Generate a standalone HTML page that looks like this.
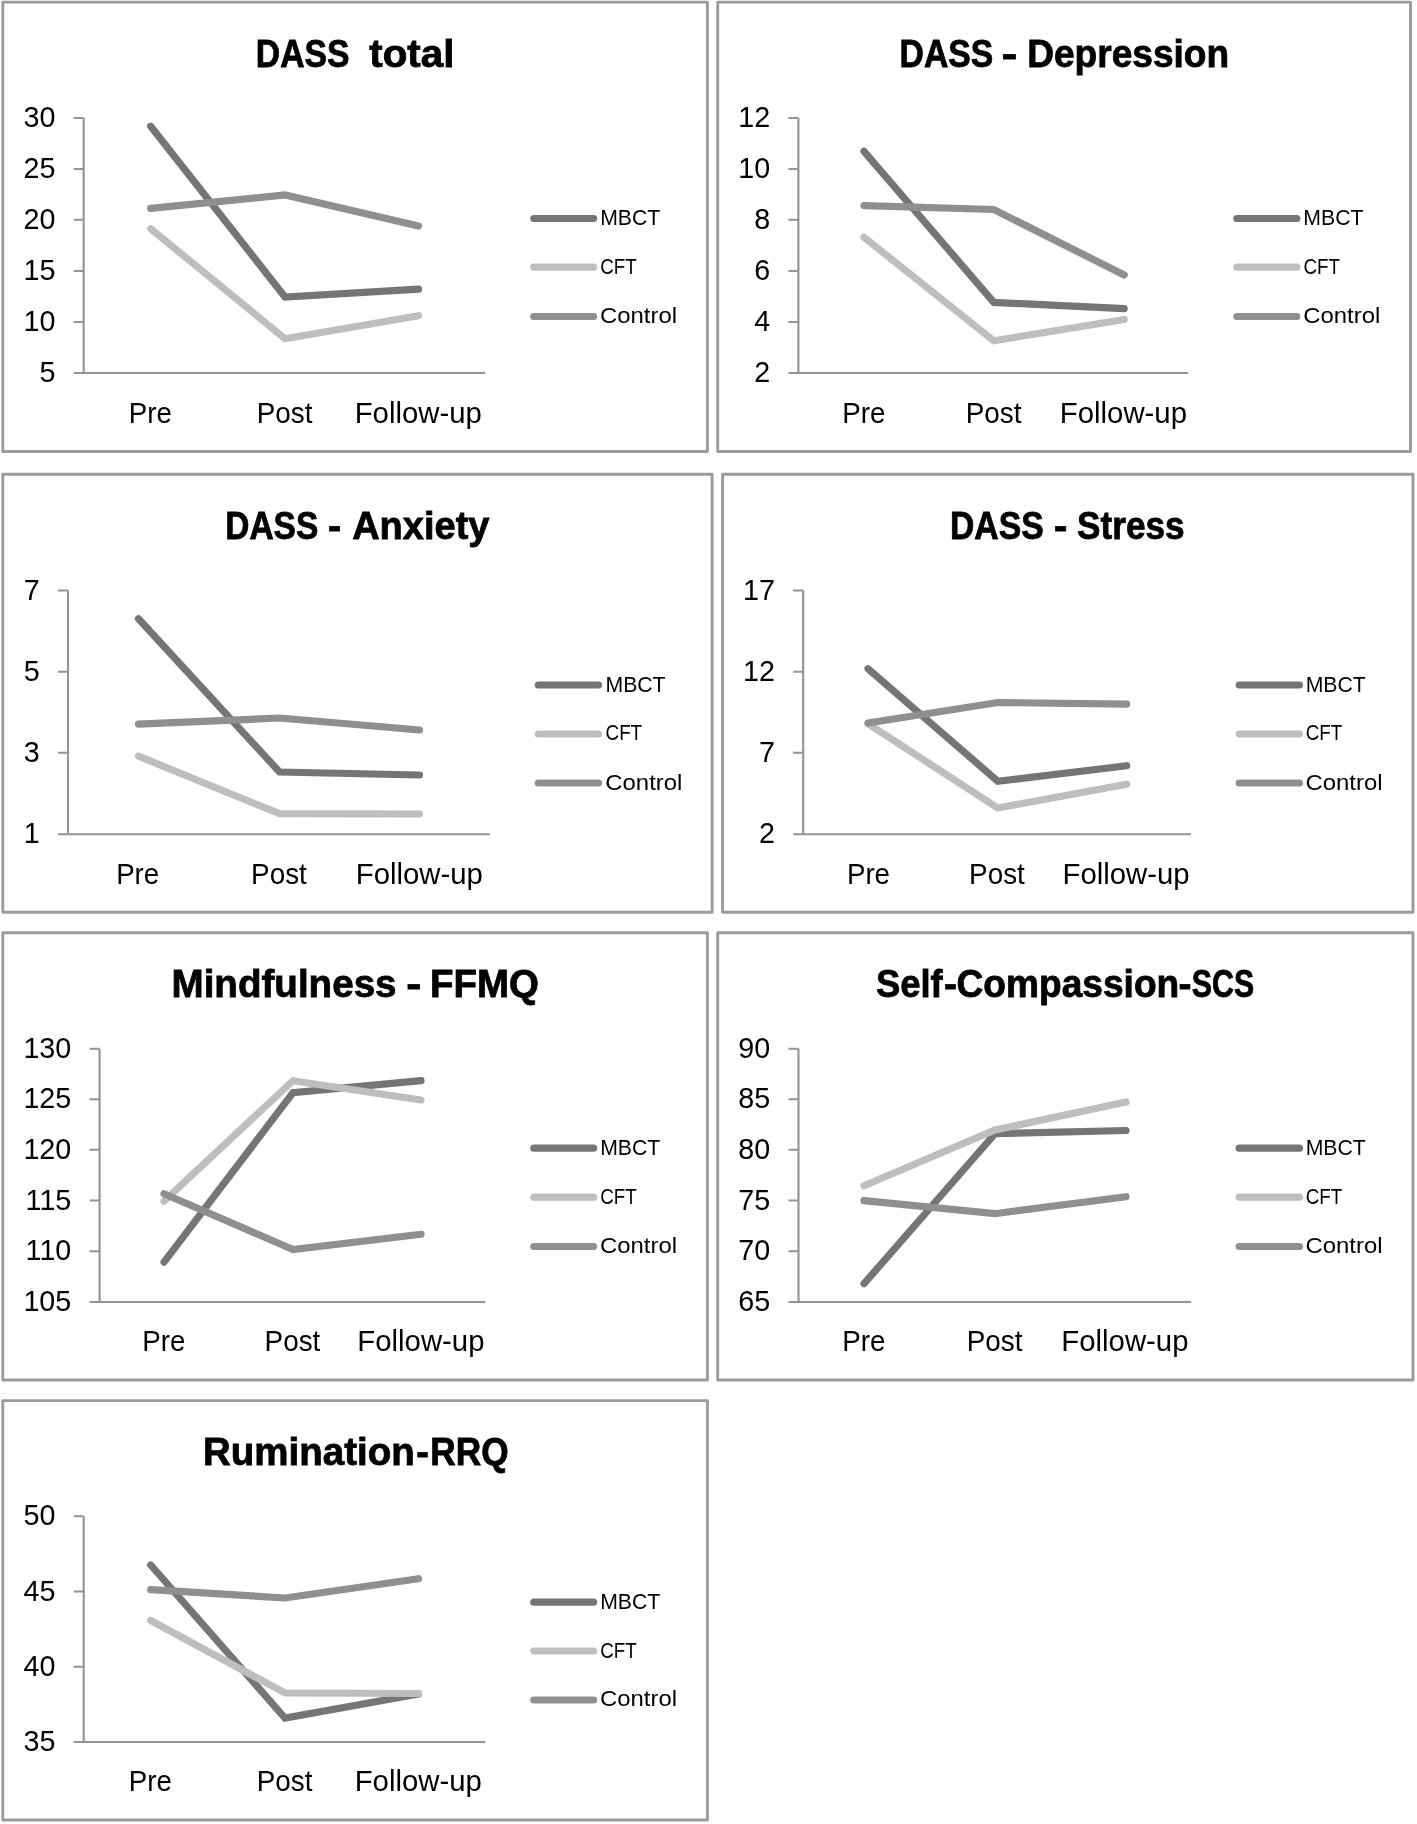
<!DOCTYPE html>
<html lang="en"><head><meta charset="utf-8"><title>Outcome measures across time</title>
<style>
html,body{margin:0;padding:0;background:#fff}
body{width:1417px;height:1824px;overflow:hidden}
svg{display:block;will-change:transform;filter:grayscale(1)}
text{font-family:"Liberation Sans",sans-serif;fill:#000}
</style></head><body>
<svg width="1417" height="1824" viewBox="0 0 1417 1824">
<rect width="1417" height="1824" fill="#fff"/>
<rect x="2.8" y="2.1" width="704.6" height="449.4" fill="#fff" stroke="#9b9b9b" stroke-width="2.9" stroke-linejoin="round"/>
<text x="255.86" y="67.3" font-size="39.2" font-weight="700" stroke="#000" stroke-width="0.8" textLength="93.65" lengthAdjust="spacingAndGlyphs">DASS</text>
<text x="369.32" y="67.3" font-size="39.2" font-weight="700" stroke="#000" stroke-width="0.8" textLength="85.12" lengthAdjust="spacingAndGlyphs">total</text>
<path d="M83.7 118V373M73.7 373H485.2M73.7 118H83.7M73.7 169H83.7M73.7 219.7H83.7M73.7 271H83.7M73.7 322H83.7" fill="none" stroke="#939393" stroke-width="2.1"/>
<text x="55.4" y="127.0" font-size="28.7" text-anchor="end" textLength="31.92" lengthAdjust="spacingAndGlyphs">30</text>
<text x="55.4" y="178.0" font-size="28.7" text-anchor="end" textLength="31.92" lengthAdjust="spacingAndGlyphs">25</text>
<text x="55.4" y="228.7" font-size="28.7" text-anchor="end" textLength="31.92" lengthAdjust="spacingAndGlyphs">20</text>
<text x="55.4" y="280.0" font-size="28.7" text-anchor="end" textLength="31.92" lengthAdjust="spacingAndGlyphs">15</text>
<text x="55.4" y="331.0" font-size="28.7" text-anchor="end" textLength="31.92" lengthAdjust="spacingAndGlyphs">10</text>
<text x="55.4" y="382.0" font-size="28.7" text-anchor="end" textLength="15.96" lengthAdjust="spacingAndGlyphs">5</text>
<text x="128.83" y="422.5" font-size="28.7" textLength="43.09" lengthAdjust="spacingAndGlyphs">Pre</text>
<text x="256.72" y="422.5" font-size="28.7" textLength="55.68" lengthAdjust="spacingAndGlyphs">Post</text>
<text x="354.70" y="422.5" font-size="28.7" textLength="127.12" lengthAdjust="spacingAndGlyphs">Follow-up</text>
<polyline points="150.7,126.2 285,297 418.5,289.2" fill="none" stroke="#757575" stroke-width="7.2" stroke-linecap="round" stroke-linejoin="miter" stroke-miterlimit="10"/>
<polyline points="150.7,228.7 285,338.7 418.5,315.7" fill="none" stroke="#bebebe" stroke-width="7.2" stroke-linecap="round" stroke-linejoin="miter" stroke-miterlimit="10"/>
<polyline points="150.7,208.3 285,195 418.5,226" fill="none" stroke="#8f8f8f" stroke-width="7.2" stroke-linecap="round" stroke-linejoin="miter" stroke-miterlimit="10"/>
<line x1="533.8" y1="218.5" x2="593.6" y2="218.5" stroke="#757575" stroke-width="7.2" stroke-linecap="round"/>
<text x="600.16" y="225.4" font-size="22.5" textLength="60.13" lengthAdjust="spacingAndGlyphs">MBCT</text>
<line x1="533.8" y1="267.2" x2="593.6" y2="267.2" stroke="#bebebe" stroke-width="7.2" stroke-linecap="round"/>
<text x="600.25" y="273.9" font-size="22.5" textLength="36.58" lengthAdjust="spacingAndGlyphs">CFT</text>
<line x1="533.8" y1="316.5" x2="593.6" y2="316.5" stroke="#8f8f8f" stroke-width="7.2" stroke-linecap="round"/>
<text x="599.99" y="323.4" font-size="22.5" textLength="77.10" lengthAdjust="spacingAndGlyphs">Control</text>
<rect x="717.7" y="2.1" width="692.8" height="449.4" fill="#fff" stroke="#9b9b9b" stroke-width="2.9" stroke-linejoin="round"/>
<text x="899.56" y="67.3" font-size="39.2" font-weight="700" stroke="#000" stroke-width="0.8" textLength="93.65" lengthAdjust="spacingAndGlyphs">DASS</text>
<text x="1001.79" y="67.3" font-size="39.2" font-weight="700" stroke="#000" stroke-width="0.8" textLength="15.47" lengthAdjust="spacingAndGlyphs">-</text>
<text x="1027.23" y="67.3" font-size="39.2" font-weight="700" stroke="#000" stroke-width="0.8" textLength="201.96" lengthAdjust="spacingAndGlyphs">Depression</text>
<path d="M798.4 118V373M788.4 373H1188M788.4 118H798.4M788.4 169H798.4M788.4 219.7H798.4M788.4 271H798.4M788.4 322H798.4" fill="none" stroke="#939393" stroke-width="2.1"/>
<text x="770.1" y="127.0" font-size="28.7" text-anchor="end" textLength="31.92" lengthAdjust="spacingAndGlyphs">12</text>
<text x="770.1" y="178.0" font-size="28.7" text-anchor="end" textLength="31.92" lengthAdjust="spacingAndGlyphs">10</text>
<text x="770.1" y="228.7" font-size="28.7" text-anchor="end" textLength="15.96" lengthAdjust="spacingAndGlyphs">8</text>
<text x="770.1" y="280.0" font-size="28.7" text-anchor="end" textLength="15.96" lengthAdjust="spacingAndGlyphs">6</text>
<text x="770.1" y="331.0" font-size="28.7" text-anchor="end" textLength="15.96" lengthAdjust="spacingAndGlyphs">4</text>
<text x="770.1" y="382.0" font-size="28.7" text-anchor="end" textLength="15.96" lengthAdjust="spacingAndGlyphs">2</text>
<text x="842.23" y="422.5" font-size="28.7" textLength="43.09" lengthAdjust="spacingAndGlyphs">Pre</text>
<text x="965.82" y="422.5" font-size="28.7" textLength="55.68" lengthAdjust="spacingAndGlyphs">Post</text>
<text x="1059.85" y="422.5" font-size="28.7" textLength="127.12" lengthAdjust="spacingAndGlyphs">Follow-up</text>
<polyline points="864,151.3 993.8,302.4 1124.2,308.7" fill="none" stroke="#757575" stroke-width="7.2" stroke-linecap="round" stroke-linejoin="miter" stroke-miterlimit="10"/>
<polyline points="864,237.3 993.8,340.8 1124.2,319.5" fill="none" stroke="#bebebe" stroke-width="7.2" stroke-linecap="round" stroke-linejoin="miter" stroke-miterlimit="10"/>
<polyline points="864,205.7 993.8,209.5 1124.2,275" fill="none" stroke="#8f8f8f" stroke-width="7.2" stroke-linecap="round" stroke-linejoin="miter" stroke-miterlimit="10"/>
<line x1="1236.9" y1="218.5" x2="1296.8" y2="218.5" stroke="#757575" stroke-width="7.2" stroke-linecap="round"/>
<text x="1303.36" y="225.4" font-size="22.5" textLength="60.13" lengthAdjust="spacingAndGlyphs">MBCT</text>
<line x1="1236.9" y1="267.2" x2="1296.8" y2="267.2" stroke="#bebebe" stroke-width="7.2" stroke-linecap="round"/>
<text x="1303.45" y="273.9" font-size="22.5" textLength="36.58" lengthAdjust="spacingAndGlyphs">CFT</text>
<line x1="1236.9" y1="316.5" x2="1296.8" y2="316.5" stroke="#8f8f8f" stroke-width="7.2" stroke-linecap="round"/>
<text x="1303.19" y="323.4" font-size="22.5" textLength="77.10" lengthAdjust="spacingAndGlyphs">Control</text>
<rect x="2.8" y="474.2" width="709.3" height="438.1" fill="#fff" stroke="#9b9b9b" stroke-width="2.9" stroke-linejoin="round"/>
<text x="225.27" y="538.6" font-size="39.2" font-weight="700" stroke="#000" stroke-width="0.8" textLength="93.03" lengthAdjust="spacingAndGlyphs">DASS</text>
<text x="328.06" y="538.6" font-size="39.2" font-weight="700" stroke="#000" stroke-width="0.8" textLength="13.11" lengthAdjust="spacingAndGlyphs">-</text>
<text x="352.17" y="538.6" font-size="39.2" font-weight="700" stroke="#000" stroke-width="0.8" textLength="137.33" lengthAdjust="spacingAndGlyphs">Anxiety</text>
<path d="M68 590.5V834.2M58 834.2H489.7M58 590.5H68M58 671.7H68M58 752.7H68" fill="none" stroke="#939393" stroke-width="2.1"/>
<text x="39.7" y="599.5" font-size="28.7" text-anchor="end" textLength="15.96" lengthAdjust="spacingAndGlyphs">7</text>
<text x="39.7" y="680.7" font-size="28.7" text-anchor="end" textLength="15.96" lengthAdjust="spacingAndGlyphs">5</text>
<text x="39.7" y="761.7" font-size="28.7" text-anchor="end" textLength="15.96" lengthAdjust="spacingAndGlyphs">3</text>
<text x="39.7" y="843.2" font-size="28.7" text-anchor="end" textLength="15.96" lengthAdjust="spacingAndGlyphs">1</text>
<text x="116.13" y="883.7" font-size="28.7" textLength="43.09" lengthAdjust="spacingAndGlyphs">Pre</text>
<text x="251.12" y="883.7" font-size="28.7" textLength="55.68" lengthAdjust="spacingAndGlyphs">Post</text>
<text x="355.75" y="883.7" font-size="28.7" textLength="127.12" lengthAdjust="spacingAndGlyphs">Follow-up</text>
<polyline points="138.5,618.7 279.5,772 419.5,775" fill="none" stroke="#757575" stroke-width="7.2" stroke-linecap="round" stroke-linejoin="miter" stroke-miterlimit="10"/>
<polyline points="138.5,756.2 279.5,813.7 419.5,814" fill="none" stroke="#bebebe" stroke-width="7.2" stroke-linecap="round" stroke-linejoin="miter" stroke-miterlimit="10"/>
<polyline points="138.5,724.2 279.5,718 419.5,730" fill="none" stroke="#8f8f8f" stroke-width="7.2" stroke-linecap="round" stroke-linejoin="miter" stroke-miterlimit="10"/>
<line x1="538.3" y1="685" x2="598.6" y2="685" stroke="#757575" stroke-width="7.2" stroke-linecap="round"/>
<text x="605.46" y="692.2" font-size="22.5" textLength="60.13" lengthAdjust="spacingAndGlyphs">MBCT</text>
<line x1="538.3" y1="734" x2="598.6" y2="734" stroke="#bebebe" stroke-width="7.2" stroke-linecap="round"/>
<text x="605.55" y="740.2" font-size="22.5" textLength="36.58" lengthAdjust="spacingAndGlyphs">CFT</text>
<line x1="538.3" y1="783" x2="598.6" y2="783" stroke="#8f8f8f" stroke-width="7.2" stroke-linecap="round"/>
<text x="605.29" y="789.7" font-size="22.5" textLength="77.10" lengthAdjust="spacingAndGlyphs">Control</text>
<rect x="722.6" y="474.2" width="690.4" height="438.1" fill="#fff" stroke="#9b9b9b" stroke-width="2.9" stroke-linejoin="round"/>
<text x="949.96" y="538.7" font-size="39.2" font-weight="700" stroke="#000" stroke-width="0.8" textLength="93.75" lengthAdjust="spacingAndGlyphs">DASS</text>
<text x="1053.93" y="538.7" font-size="39.2" font-weight="700" stroke="#000" stroke-width="0.8" textLength="13.37" lengthAdjust="spacingAndGlyphs">-</text>
<text x="1077.10" y="538.7" font-size="39.2" font-weight="700" stroke="#000" stroke-width="0.8" textLength="107.53" lengthAdjust="spacingAndGlyphs">Stress</text>
<path d="M803.2 590.5V834.2M793.2 834.2H1191M793.2 590.5H803.2M793.2 671.7H803.2M793.2 752.7H803.2" fill="none" stroke="#939393" stroke-width="2.1"/>
<text x="774.9" y="599.5" font-size="28.7" text-anchor="end" textLength="31.92" lengthAdjust="spacingAndGlyphs">17</text>
<text x="774.9" y="680.7" font-size="28.7" text-anchor="end" textLength="31.92" lengthAdjust="spacingAndGlyphs">12</text>
<text x="774.9" y="761.7" font-size="28.7" text-anchor="end" textLength="15.96" lengthAdjust="spacingAndGlyphs">7</text>
<text x="774.9" y="843.2" font-size="28.7" text-anchor="end" textLength="15.96" lengthAdjust="spacingAndGlyphs">2</text>
<text x="846.93" y="883.7" font-size="28.7" textLength="43.09" lengthAdjust="spacingAndGlyphs">Pre</text>
<text x="969.12" y="883.7" font-size="28.7" textLength="55.68" lengthAdjust="spacingAndGlyphs">Post</text>
<text x="1062.55" y="883.7" font-size="28.7" textLength="127.12" lengthAdjust="spacingAndGlyphs">Follow-up</text>
<polyline points="868,668.7 997.7,781.2 1126.7,765.7" fill="none" stroke="#757575" stroke-width="7.2" stroke-linecap="round" stroke-linejoin="miter" stroke-miterlimit="10"/>
<polyline points="868,723.7 997.7,808 1126.7,784.2" fill="none" stroke="#bebebe" stroke-width="7.2" stroke-linecap="round" stroke-linejoin="miter" stroke-miterlimit="10"/>
<polyline points="868,723 997.7,702.5 1126.7,704.2" fill="none" stroke="#8f8f8f" stroke-width="7.2" stroke-linecap="round" stroke-linejoin="miter" stroke-miterlimit="10"/>
<line x1="1239.2" y1="685" x2="1299.5" y2="685" stroke="#757575" stroke-width="7.2" stroke-linecap="round"/>
<text x="1305.66" y="692.2" font-size="22.5" textLength="60.13" lengthAdjust="spacingAndGlyphs">MBCT</text>
<line x1="1239.2" y1="734" x2="1299.5" y2="734" stroke="#bebebe" stroke-width="7.2" stroke-linecap="round"/>
<text x="1305.75" y="740.2" font-size="22.5" textLength="36.58" lengthAdjust="spacingAndGlyphs">CFT</text>
<line x1="1239.2" y1="783" x2="1299.5" y2="783" stroke="#8f8f8f" stroke-width="7.2" stroke-linecap="round"/>
<text x="1305.49" y="789.7" font-size="22.5" textLength="77.10" lengthAdjust="spacingAndGlyphs">Control</text>
<rect x="2.8" y="932.8" width="704.6" height="447.2" fill="#fff" stroke="#9b9b9b" stroke-width="2.9" stroke-linejoin="round"/>
<text x="171.53" y="996.9" font-size="39.2" font-weight="700" stroke="#000" stroke-width="0.8" textLength="225.03" lengthAdjust="spacingAndGlyphs">Mindfulness</text>
<text x="406.15" y="996.9" font-size="39.2" font-weight="700" stroke="#000" stroke-width="0.8" textLength="14.95" lengthAdjust="spacingAndGlyphs">-</text>
<text x="429.94" y="996.9" font-size="39.2" font-weight="700" stroke="#000" stroke-width="0.8" textLength="108.98" lengthAdjust="spacingAndGlyphs">FFMQ</text>
<path d="M99.6 1048.7V1302M89.6 1302H485.2M89.6 1048.7H99.6M89.6 1099.2H99.6M89.6 1149.7H99.6M89.6 1200.5H99.6M89.6 1251.2H99.6" fill="none" stroke="#939393" stroke-width="2.1"/>
<text x="71.3" y="1057.7" font-size="28.7" text-anchor="end" textLength="47.89" lengthAdjust="spacingAndGlyphs">130</text>
<text x="71.3" y="1108.2" font-size="28.7" text-anchor="end" textLength="47.89" lengthAdjust="spacingAndGlyphs">125</text>
<text x="71.3" y="1158.7" font-size="28.7" text-anchor="end" textLength="47.89" lengthAdjust="spacingAndGlyphs">120</text>
<text x="71.3" y="1209.5" font-size="28.7" text-anchor="end" textLength="45.75" lengthAdjust="spacingAndGlyphs">115</text>
<text x="71.3" y="1260.2" font-size="28.7" text-anchor="end" textLength="45.75" lengthAdjust="spacingAndGlyphs">110</text>
<text x="71.3" y="1311.0" font-size="28.7" text-anchor="end" textLength="47.89" lengthAdjust="spacingAndGlyphs">105</text>
<text x="142.33" y="1351.2" font-size="28.7" textLength="43.09" lengthAdjust="spacingAndGlyphs">Pre</text>
<text x="264.62" y="1351.2" font-size="28.7" textLength="55.68" lengthAdjust="spacingAndGlyphs">Post</text>
<text x="357.35" y="1351.2" font-size="28.7" textLength="127.12" lengthAdjust="spacingAndGlyphs">Follow-up</text>
<polyline points="164,1262.1 293,1092.6 421,1080.7" fill="none" stroke="#757575" stroke-width="7.2" stroke-linecap="round" stroke-linejoin="miter" stroke-miterlimit="10"/>
<polyline points="164,1201.2 293,1080.7 421,1100" fill="none" stroke="#bebebe" stroke-width="7.2" stroke-linecap="round" stroke-linejoin="miter" stroke-miterlimit="10"/>
<polyline points="164,1193.7 293,1249.5 421,1234.2" fill="none" stroke="#8f8f8f" stroke-width="7.2" stroke-linecap="round" stroke-linejoin="miter" stroke-miterlimit="10"/>
<line x1="533.8" y1="1148.2" x2="593.6" y2="1148.2" stroke="#757575" stroke-width="7.2" stroke-linecap="round"/>
<text x="600.16" y="1154.7" font-size="22.5" textLength="60.13" lengthAdjust="spacingAndGlyphs">MBCT</text>
<line x1="533.8" y1="1197.2" x2="593.6" y2="1197.2" stroke="#bebebe" stroke-width="7.2" stroke-linecap="round"/>
<text x="600.25" y="1203.9" font-size="22.5" textLength="36.58" lengthAdjust="spacingAndGlyphs">CFT</text>
<line x1="533.8" y1="1246.5" x2="593.6" y2="1246.5" stroke="#8f8f8f" stroke-width="7.2" stroke-linecap="round"/>
<text x="599.99" y="1253.4" font-size="22.5" textLength="77.10" lengthAdjust="spacingAndGlyphs">Control</text>
<rect x="717.7" y="932.8" width="695.3" height="447.2" fill="#fff" stroke="#9b9b9b" stroke-width="2.9" stroke-linejoin="round"/>
<text x="875.96" y="997.1" font-size="39.2" font-weight="700" stroke="#000" stroke-width="0.8" textLength="66.76" lengthAdjust="spacingAndGlyphs">Self</text>
<text x="943.88" y="997.1" font-size="39.2" font-weight="700" stroke="#000" stroke-width="0.8" textLength="12.98" lengthAdjust="spacingAndGlyphs">-</text>
<text x="956.48" y="997.1" font-size="39.2" font-weight="700" stroke="#000" stroke-width="0.8" textLength="222.83" lengthAdjust="spacingAndGlyphs">Compassion</text>
<text x="1178.58" y="997.1" font-size="39.2" font-weight="700" stroke="#000" stroke-width="0.8" textLength="12.98" lengthAdjust="spacingAndGlyphs">-</text>
<text x="1191.84" y="997.1" font-size="39.2" font-weight="700" stroke="#000" stroke-width="0.8" textLength="62.35" lengthAdjust="spacingAndGlyphs">SCS</text>
<path d="M798.5 1048.7V1302M788.5 1302H1191M788.5 1048.7H798.5M788.5 1099.2H798.5M788.5 1149.7H798.5M788.5 1200.5H798.5M788.5 1251.2H798.5" fill="none" stroke="#939393" stroke-width="2.1"/>
<text x="770.2" y="1057.7" font-size="28.7" text-anchor="end" textLength="31.92" lengthAdjust="spacingAndGlyphs">90</text>
<text x="770.2" y="1108.2" font-size="28.7" text-anchor="end" textLength="31.92" lengthAdjust="spacingAndGlyphs">85</text>
<text x="770.2" y="1158.7" font-size="28.7" text-anchor="end" textLength="31.92" lengthAdjust="spacingAndGlyphs">80</text>
<text x="770.2" y="1209.5" font-size="28.7" text-anchor="end" textLength="31.92" lengthAdjust="spacingAndGlyphs">75</text>
<text x="770.2" y="1260.2" font-size="28.7" text-anchor="end" textLength="31.92" lengthAdjust="spacingAndGlyphs">70</text>
<text x="770.2" y="1311.0" font-size="28.7" text-anchor="end" textLength="31.92" lengthAdjust="spacingAndGlyphs">65</text>
<text x="842.23" y="1351.2" font-size="28.7" textLength="43.09" lengthAdjust="spacingAndGlyphs">Pre</text>
<text x="966.82" y="1351.2" font-size="28.7" textLength="55.68" lengthAdjust="spacingAndGlyphs">Post</text>
<text x="1061.35" y="1351.2" font-size="28.7" textLength="127.12" lengthAdjust="spacingAndGlyphs">Follow-up</text>
<polyline points="864,1283.7 995,1133.7 1126,1130.5" fill="none" stroke="#757575" stroke-width="7.2" stroke-linecap="round" stroke-linejoin="miter" stroke-miterlimit="10"/>
<polyline points="864,1185.7 995,1130 1126,1102" fill="none" stroke="#bebebe" stroke-width="7.2" stroke-linecap="round" stroke-linejoin="miter" stroke-miterlimit="10"/>
<polyline points="864,1200.7 995,1213.7 1126,1196.7" fill="none" stroke="#8f8f8f" stroke-width="7.2" stroke-linecap="round" stroke-linejoin="miter" stroke-miterlimit="10"/>
<line x1="1239.2" y1="1148.2" x2="1299.5" y2="1148.2" stroke="#757575" stroke-width="7.2" stroke-linecap="round"/>
<text x="1305.66" y="1154.7" font-size="22.5" textLength="60.13" lengthAdjust="spacingAndGlyphs">MBCT</text>
<line x1="1239.2" y1="1197.2" x2="1299.5" y2="1197.2" stroke="#bebebe" stroke-width="7.2" stroke-linecap="round"/>
<text x="1305.75" y="1203.9" font-size="22.5" textLength="36.58" lengthAdjust="spacingAndGlyphs">CFT</text>
<line x1="1239.2" y1="1246.5" x2="1299.5" y2="1246.5" stroke="#8f8f8f" stroke-width="7.2" stroke-linecap="round"/>
<text x="1305.49" y="1253.4" font-size="22.5" textLength="77.10" lengthAdjust="spacingAndGlyphs">Control</text>
<rect x="2.8" y="1400.6" width="704.6" height="419.4" fill="#fff" stroke="#9b9b9b" stroke-width="2.9" stroke-linejoin="round"/>
<text x="202.94" y="1464.7" font-size="39.2" font-weight="700" stroke="#000" stroke-width="0.8" textLength="211.75" lengthAdjust="spacingAndGlyphs">Rumination</text>
<text x="416.33" y="1464.7" font-size="39.2" font-weight="700" stroke="#000" stroke-width="0.8" textLength="12.59" lengthAdjust="spacingAndGlyphs">-</text>
<text x="430.36" y="1464.7" font-size="39.2" font-weight="700" stroke="#000" stroke-width="0.8" textLength="78.31" lengthAdjust="spacingAndGlyphs">RRQ</text>
<path d="M83.7 1516.2V1742M73.7 1742H485.2M73.7 1516.2H83.7M73.7 1591.5H83.7M73.7 1666.7H83.7" fill="none" stroke="#939393" stroke-width="2.1"/>
<text x="55.4" y="1525.2" font-size="28.7" text-anchor="end" textLength="31.92" lengthAdjust="spacingAndGlyphs">50</text>
<text x="55.4" y="1600.5" font-size="28.7" text-anchor="end" textLength="31.92" lengthAdjust="spacingAndGlyphs">45</text>
<text x="55.4" y="1675.7" font-size="28.7" text-anchor="end" textLength="31.92" lengthAdjust="spacingAndGlyphs">40</text>
<text x="55.4" y="1751.0" font-size="28.7" text-anchor="end" textLength="31.92" lengthAdjust="spacingAndGlyphs">35</text>
<text x="128.83" y="1791.2" font-size="28.7" textLength="43.09" lengthAdjust="spacingAndGlyphs">Pre</text>
<text x="256.72" y="1791.2" font-size="28.7" textLength="55.68" lengthAdjust="spacingAndGlyphs">Post</text>
<text x="354.70" y="1791.2" font-size="28.7" textLength="127.12" lengthAdjust="spacingAndGlyphs">Follow-up</text>
<polyline points="150.7,1565 285,1718 418.5,1694" fill="none" stroke="#757575" stroke-width="7.2" stroke-linecap="round" stroke-linejoin="miter" stroke-miterlimit="10"/>
<polyline points="150.7,1620.5 285,1693 418.5,1693.5" fill="none" stroke="#bebebe" stroke-width="7.2" stroke-linecap="round" stroke-linejoin="miter" stroke-miterlimit="10"/>
<polyline points="150.7,1589.7 285,1598 418.5,1578.7" fill="none" stroke="#8f8f8f" stroke-width="7.2" stroke-linecap="round" stroke-linejoin="miter" stroke-miterlimit="10"/>
<line x1="533.8" y1="1602.2" x2="593.6" y2="1602.2" stroke="#757575" stroke-width="7.2" stroke-linecap="round"/>
<text x="600.16" y="1608.9" font-size="22.5" textLength="60.13" lengthAdjust="spacingAndGlyphs">MBCT</text>
<line x1="533.8" y1="1651" x2="593.6" y2="1651" stroke="#bebebe" stroke-width="7.2" stroke-linecap="round"/>
<text x="600.25" y="1657.7" font-size="22.5" textLength="36.58" lengthAdjust="spacingAndGlyphs">CFT</text>
<line x1="533.8" y1="1700" x2="593.6" y2="1700" stroke="#8f8f8f" stroke-width="7.2" stroke-linecap="round"/>
<text x="599.99" y="1706.4" font-size="22.5" textLength="77.10" lengthAdjust="spacingAndGlyphs">Control</text>
</svg>
</body></html>
